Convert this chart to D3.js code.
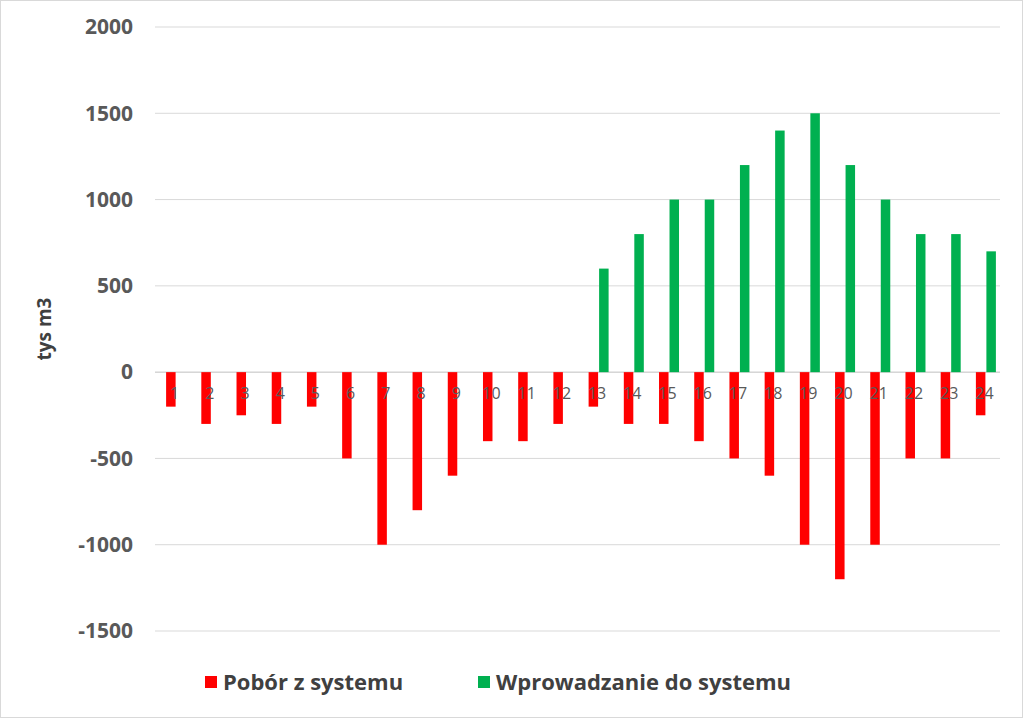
<!DOCTYPE html>
<html><head><meta charset="utf-8">
<script src="https://cdn.jsdelivr.net/npm/d3@7"></script>
<style>body{margin:0;background:#fff}</style></head>
<body><svg id="c" width="1024" height="719"></svg>
<script>
const categories = d3.range(1,25).map(String);
const pobor = [-200,-300,-250,-300,-200,-500,-1000,-800,-600,-400,-400,-300,-200,-300,-300,-400,-500,-600,-1000,-1200,-1000,-500,-500,-250];
const wprowadzanie = [0,0,0,0,0,0,0,0,0,0,0,0,600,800,1000,1000,1200,1400,1500,1200,1000,800,800,700];
const yTicks = [-1500,-1000,-500,0,500,1000,1500,2000];
const seriesNames = ["Pobór z systemu","Wprowadzanie do systemu"];
const colors = ["#ff0000","#00b050"];

const svg = d3.select("#c");
svg.append("rect").attr("x",0.5).attr("y",0.5).attr("width",1022).attr("height",717).attr("fill","#fff").attr("stroke","#d9d9d9");
const x = d3.scaleBand().domain(categories).range([155,1000]);
const y = d3.scaleLinear().domain([-1500,2000]).range([631,27]);
const font = "'Open Sans', Arial, sans-serif";

svg.append("g").selectAll("line").data(yTicks).join("line")
 .attr("x1",155).attr("x2",1000).attr("y1",d=>y(d)).attr("y2",d=>y(d))
 .attr("stroke",d=>d===0?"#bfbfbf":"#d9d9d9").attr("stroke-width",1);
svg.append("g").selectAll("text").data(yTicks).join("text")
 .attr("x",133).attr("y",d=>y(d)).attr("dy","0.35em").attr("text-anchor","end")
 .attr("font-family",font).attr("font-weight","bold").attr("font-size",21).attr("fill","#595959").text(d=>d);
svg.append("text").attr("transform",`translate(51,${y(250)}) rotate(-90)`).attr("text-anchor","middle")
 .attr("font-family",font).attr("font-weight","bold").attr("font-size",19).attr("fill","#404040").text("tys m3");

const bw = 9.5;
const cx = c => x(c)+x.bandwidth()/2 + 3;
svg.append("g").selectAll("rect").data(categories).join("rect")
 .attr("x",(c)=>cx(c)-bw).attr("width",bw)
 .attr("y",(c,i)=>y(Math.max(0,pobor[i]))).attr("height",(c,i)=>Math.abs(y(pobor[i])-y(0)))
 .attr("fill",colors[0]);
svg.append("g").selectAll("rect").data(categories).join("rect")
 .attr("x",(c)=>cx(c)+1).attr("width",bw)
 .attr("y",(c,i)=>y(Math.max(0,wprowadzanie[i]))).attr("height",(c,i)=>Math.abs(y(wprowadzanie[i])-y(0)))
 .attr("fill",colors[1]);
svg.append("g").selectAll("text").data(categories).join("text")
 .attr("x",c=>x(c)+x.bandwidth()/2+2).attr("y",y(0)+27).attr("text-anchor","middle")
 .attr("font-family",font).attr("font-size",16).attr("fill","#595959").text(c=>c);

const lg = [{x:205,n:seriesNames[0],c:colors[0]},{x:478,n:seriesNames[1],c:colors[1]}];
lg.forEach(l=>{
 svg.append("rect").attr("x",l.x).attr("y",676).attr("width",12).attr("height",12).attr("fill",l.c);
 svg.append("text").attr("x",l.x+18).attr("y",682).attr("dy","0.35em")
  .attr("font-family",font).attr("font-weight","bold").attr("font-size",22).attr("fill","#404040").text(l.n);
});
</script></body></html>
